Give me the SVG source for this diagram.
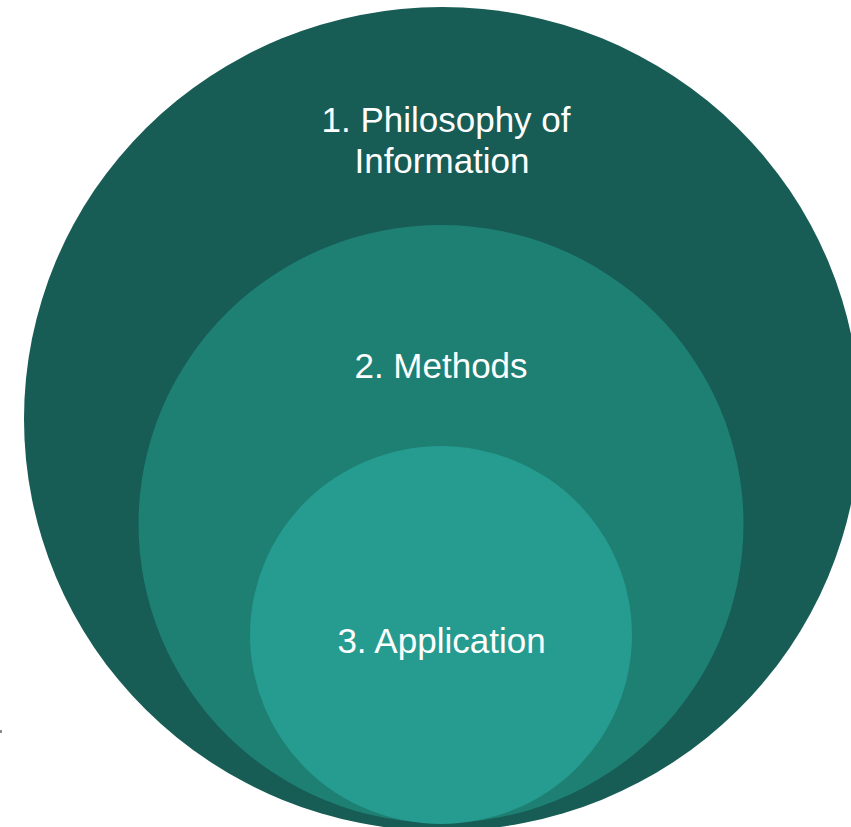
<svg xmlns="http://www.w3.org/2000/svg" width="851" height="827" viewBox="0 0 851 827">
  <style>
    .label { font-family: "Liberation Sans", Arial, sans-serif; font-size: 35px; fill: #ffffff; text-anchor: middle; }
    .outer { fill: #175c55; }
    .middle { fill: #1e7f73; }
    .inner { fill: #259c8f; }
  </style>
  <rect width="851" height="827" fill="#ffffff"/>
  <!-- stray mark at the left edge -->
  <rect x="0" y="730" width="2" height="3" fill="#8a8a8a"/>

  <g id="philosophy">
    <ellipse class="outer" cx="442" cy="419" rx="418" ry="412"/>
    <text class="label" x="446" y="132">1. Philosophy of</text>
    <text class="label" x="442" y="173">Information</text>
  </g>

  <g id="methods">
    <ellipse class="middle" cx="441" cy="524" rx="302.5" ry="299"/>
    <text class="label" x="441" y="378">2. Methods</text>
  </g>

  <g id="application">
    <ellipse class="inner" cx="441" cy="635" rx="191" ry="189"/>
    <text class="label" x="441.5" y="653">3. Application</text>
  </g>

  <g id="connectors"/>
</svg>
